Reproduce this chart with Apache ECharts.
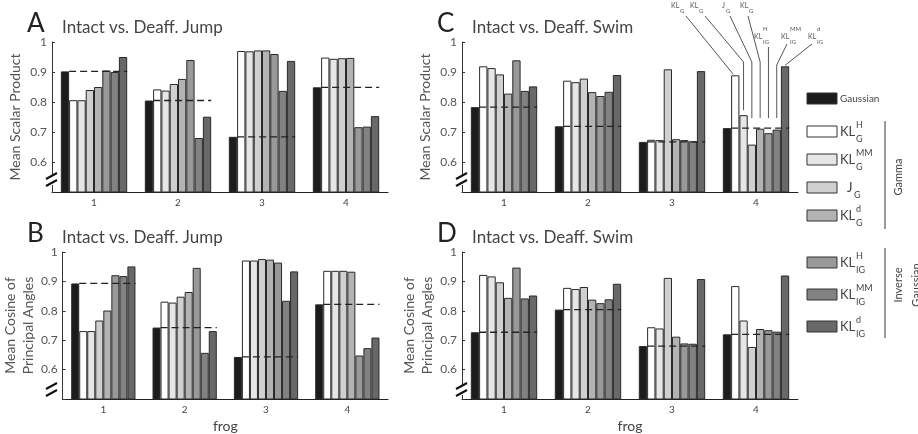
<!DOCTYPE html>
<html>
<head>
<meta charset="utf-8">
<script src="https://cdn.jsdelivr.net/npm/echarts@6/dist/echarts.min.js"></script>
<style>
  html, body { margin: 0; padding: 0; background: #fff; }
  #main { width: 918px; height: 434px; }
</style>
</head>
<body>
<div id="main"></div>
<script>
const frogs = ['1', '2', '3', '4'];

// legend label parts: base, superscript, subscript
const methodBase = ['Gaussian', 'KL', 'KL', 'J', 'KL', 'KL', 'KL', 'KL'];
const methodSup = ['', 'H', 'MM', '', 'd', 'H', 'MM', 'd'];
const methodSub = ['', 'G', 'G', 'G', 'G', 'IG', 'IG', 'IG'];

// one row per method (Gaussian, KL_G^H, KL_G^MM, J_G, KL_G^d, KL_IG^H, KL_IG^MM, KL_IG^d), one value per frog
const jumpScalar = [
  [0.902, 0.805, 0.684, 0.849],
  [0.806, 0.842, 0.970, 0.948],
  [0.806, 0.838, 0.969, 0.944],
  [0.840, 0.860, 0.972, 0.946],
  [0.850, 0.877, 0.972, 0.947],
  [0.905, 0.940, 0.960, 0.716],
  [0.900, 0.680, 0.837, 0.718],
  [0.950, 0.751, 0.937, 0.753],
];
const jumpCosine = [
  [0.893, 0.743, 0.643, 0.822],
  [0.731, 0.831, 0.971, 0.936],
  [0.731, 0.828, 0.971, 0.936],
  [0.767, 0.848, 0.976, 0.936],
  [0.801, 0.864, 0.974, 0.933],
  [0.921, 0.946, 0.964, 0.648],
  [0.918, 0.657, 0.834, 0.673],
  [0.951, 0.731, 0.934, 0.709],
];
const swimScalar = [
  [0.783, 0.719, 0.667, 0.713],
  [0.919, 0.871, 0.674, 0.889],
  [0.913, 0.866, 0.673, 0.756],
  [0.892, 0.878, 0.909, 0.658],
  [0.828, 0.833, 0.676, 0.711],
  [0.939, 0.820, 0.673, 0.696],
  [0.837, 0.834, 0.669, 0.708],
  [0.852, 0.890, 0.903, 0.919],
];
const swimCosine = [
  [0.727, 0.804, 0.680, 0.720],
  [0.922, 0.878, 0.744, 0.884],
  [0.917, 0.874, 0.740, 0.767],
  [0.897, 0.881, 0.912, 0.677],
  [0.844, 0.838, 0.712, 0.738],
  [0.947, 0.826, 0.689, 0.734],
  [0.842, 0.839, 0.688, 0.729],
  [0.852, 0.892, 0.908, 0.920],
];

const colors = ['#1c1c1c', '#ffffff', '#e6e6e6', '#d0d0d0', '#b3b3b3', '#999999', '#828282', '#686868'];
const FONT = 'Lato, "Noto Sans", sans-serif';
const CAT_GAP = 0.21;

const panels = [
  { letter: 'A', title: 'Intact vs. Deaff. Jump', yName: 'Mean Scalar Product', data: jumpScalar, left: 52, top: 42, xName: '', gap: 28 },
  { letter: 'B', title: 'Intact vs. Deaff. Jump', yName: 'Mean Cosine of\nPrincipal Angles', data: jumpCosine, left: 52, top: 252, xName: 'frog', gap: 24 },
  { letter: 'C', title: 'Intact vs. Deaff. Swim', yName: 'Mean Scalar Product', data: swimScalar, left: 462, top: 42, xName: '', gap: 28 },
  { letter: 'D', title: 'Intact vs. Deaff. Swim', yName: 'Mean Cosine of\nPrincipal Angles', data: swimCosine, left: 462, top: 252, xName: 'frog', gap: 24 },
];
const W = 336, H = 150;

const chart = echarts.init(document.getElementById('main'));

const grid = [], xAxis = [], yAxis = [], series = [], title = [], graphic = [];

panels.forEach((p, i) => {
  grid.push({ left: p.left, top: p.top, width: W, height: H });
  title.push({
    text: p.letter, left: p.left - 30, top: p.top - 36,
    textStyle: { fontSize: 26, fontWeight: 'normal', color: '#222', fontFamily: FONT },
  });
  title.push({
    text: p.title, left: p.left + 5, top: p.top - 28,
    textStyle: { fontSize: 17, fontWeight: 'normal', color: '#444', fontFamily: FONT },
  });
  xAxis.push({
    type: 'category', gridIndex: i, data: frogs,
    name: p.xName, nameLocation: 'middle', nameGap: 20,
    nameTextStyle: { fontSize: 14, color: '#444', fontFamily: FONT },
    axisLine: { lineStyle: { color: '#222', width: 1 } },
    axisTick: { show: false },
    axisLabel: { fontSize: 10, color: '#444', margin: 6, fontFamily: FONT },
  });
  yAxis.push({
    type: 'value', gridIndex: i, min: 0.5, max: 1, interval: 0.1,
    name: p.yName, nameLocation: 'middle', nameRotate: 90, nameGap: p.gap,
    nameTextStyle: { fontSize: 14, color: '#555', lineHeight: 18, fontFamily: FONT },
    splitLine: { show: false },
    axisLine: { show: true, lineStyle: { color: '#333', width: 1 } },
    axisTick: { show: true, inside: true, length: 3, lineStyle: { color: '#333' } },
    axisLabel: {
      fontSize: 12, color: '#555', margin: 5, fontFamily: FONT,
      formatter: v => (v < 0.55 ? '' : String(+v.toFixed(1))),
    },
  });
  p.data.forEach((vals, k) => {
    series.push({
      type: 'bar', name: methodBase[k] + methodSup[k] + methodSub[k],
      xAxisIndex: i, yAxisIndex: i, data: vals,
      barGap: '0%', barCategoryGap: CAT_GAP * 100 + '%',
      itemStyle: { color: colors[k], borderColor: '#2a2a2a', borderWidth: 1 },
      silent: true, animation: false,
    });
  });
  // Gaussian level, dashed across each group
  series.push({
    type: 'custom', xAxisIndex: i, yAxisIndex: i, z: 5, silent: true, animation: false,
    data: p.data[0].map((v, j) => [j, v]),
    encode: { x: 0, y: 1 },
    renderItem: (params, api) => {
      const c = api.coord([api.value(0), api.value(1)]);
      const half = api.size([1, 0])[0] * (1 - CAT_GAP) / 2;
      const bw = 2 * half / 8;
      return {
        type: 'line',
        shape: { x1: c[0] - half + bw, y1: c[1], x2: c[0] + half, y2: c[1] },
        style: { stroke: '#222', lineWidth: 1.3, lineDash: [7, 4] },
      };
    },
  });
  // broken axis marker
  const bx = p.left, by = p.top + H - 12;
  graphic.push({ type: 'rect', shape: { x: bx - 3, y: by - 5, width: 6, height: 10 }, style: { fill: '#fff' }, z: 100 });
  graphic.push({ type: 'line', shape: { x1: bx - 6, y1: by - 1, x2: bx + 5, y2: by - 7 }, style: { stroke: '#111', lineWidth: 2 }, z: 101 });
  graphic.push({ type: 'line', shape: { x1: bx - 6, y1: by + 6, x2: bx + 5, y2: by }, style: { stroke: '#111', lineWidth: 2 }, z: 101 });
});

// legend on the right
const legendY = [93, 126, 154, 182, 210, 257, 289, 321];
methodBase.forEach((b, k) => {
  const y = legendY[k];
  graphic.push({ type: 'rect', shape: { x: 807, y: y, width: 30, height: 11 }, style: { fill: colors[k], stroke: '#333', lineWidth: 1 } });
  if (k === 0) {
    graphic.push({ type: 'text', x: 840, y: y + 6, style: { text: b, fontSize: 10, fill: '#444', fontFamily: FONT, verticalAlign: 'middle' } });
    return;
  }
  const baseW = b === 'J' ? 6 : 15;
  const bxx = b === 'J' ? 847 : 840;
  graphic.push({ type: 'text', x: bxx, y: y + 6, style: { text: b, fontSize: 13, fill: '#444', fontFamily: FONT, verticalAlign: 'middle' } });
  if (methodSup[k]) {
    graphic.push({ type: 'text', x: bxx + baseW + 1, y: y - 1, style: { text: methodSup[k], fontSize: 9, fill: '#444', fontFamily: FONT, verticalAlign: 'middle' } });
  }
  graphic.push({ type: 'text', x: bxx + baseW + 1, y: y + 13, style: { text: methodSub[k], fontSize: 9, fill: '#444', fontFamily: FONT, verticalAlign: 'middle' } });
});
// group brackets
graphic.push({ type: 'line', shape: { x1: 885, y1: 121, x2: 885, y2: 229 }, style: { stroke: '#555', lineWidth: 1.2 } });
graphic.push({ type: 'text', x: 898, y: 177, rotation: Math.PI / 2, style: { text: 'Gamma', fontSize: 11, fill: '#444', fontFamily: FONT, align: 'center', verticalAlign: 'middle' } });
graphic.push({ type: 'line', shape: { x1: 885, y1: 248, x2: 885, y2: 338 }, style: { stroke: '#555', lineWidth: 1.2 } });
graphic.push({ type: 'text', x: 907, y: 285, rotation: Math.PI / 2, style: { text: 'Inverse\nGaussian', fontSize: 11, lineHeight: 18, fill: '#444', fontFamily: FONT, align: 'center', verticalAlign: 'middle' } });

chart.setOption({
  animation: false,
  grid, xAxis, yAxis, series, title,
  graphic: { elements: graphic },
});

// leader lines from the method labels to the frog-4 bars of panel C
const annot = [
  null,
  { tx: 671, ty: 2, sx: 686, sy: 16, knee: null },
  { tx: 690, ty: 2, sx: 705, sy: 16, knee: 62 },
  { tx: 722, ty: 2, sx: 730, sy: 16, knee: 62 },
  { tx: 740, ty: 2, sx: 748, sy: 16, knee: 62 },
  { tx: 754, ty: 33, sx: null, sy: 47, knee: null },
  { tx: 781, ty: 33, sx: 787, sy: 44, knee: 65 },
  { tx: 808, ty: 33, sx: 812, sy: 44, knee: 65 },
];
const cIdx = 2;
const c3 = chart.convertToPixel({ gridIndex: cIdx }, [3, swimScalar[0][3]]);
const c2 = chart.convertToPixel({ gridIndex: cIdx }, [2, swimScalar[0][3]]);
const catW = c3[0] - c2[0];
const half = catW * (1 - CAT_GAP) / 2;
const bw = 2 * half / 8;
const dashY = c3[1];
const extra = [];
annot.forEach((a, k) => {
  if (!a) return;
  const barX = c3[0] - half + bw * (k + 0.5);
  const top = chart.convertToPixel({ gridIndex: cIdx }, [3, swimScalar[k][3]])[1];
  const sx = a.sx == null ? barX : a.sx;
  const pts = [[sx, a.sy]];
  if (top < 80) {
    pts.push([k === 1 ? barX - 2 : barX, top - 1]);
  } else {
    if (a.knee) pts.push([barX, a.knee]);
    pts.push([barX, Math.min(top - 5, dashY - 10)]);
  }
  extra.push({ type: 'polyline', shape: { points: pts }, style: { stroke: '#555', lineWidth: 1, fill: null } });
  const bWid = methodBase[k] === 'J' ? 3 : 8;
  extra.push({ type: 'text', x: a.tx, y: a.ty, style: { text: methodBase[k], fontSize: 7, fill: '#555', fontFamily: FONT } });
  extra.push({ type: 'text', x: a.tx + bWid + 1, y: a.ty - 7, style: { text: methodSup[k], fontSize: 6, fill: '#555', fontFamily: FONT } });
  extra.push({ type: 'text', x: a.tx + bWid + 1, y: a.ty + 6, style: { text: methodSub[k], fontSize: 6, fill: '#555', fontFamily: FONT } });
});
chart.setOption({ graphic: { elements: graphic.concat(extra) } });
</script>
</body>
</html>
